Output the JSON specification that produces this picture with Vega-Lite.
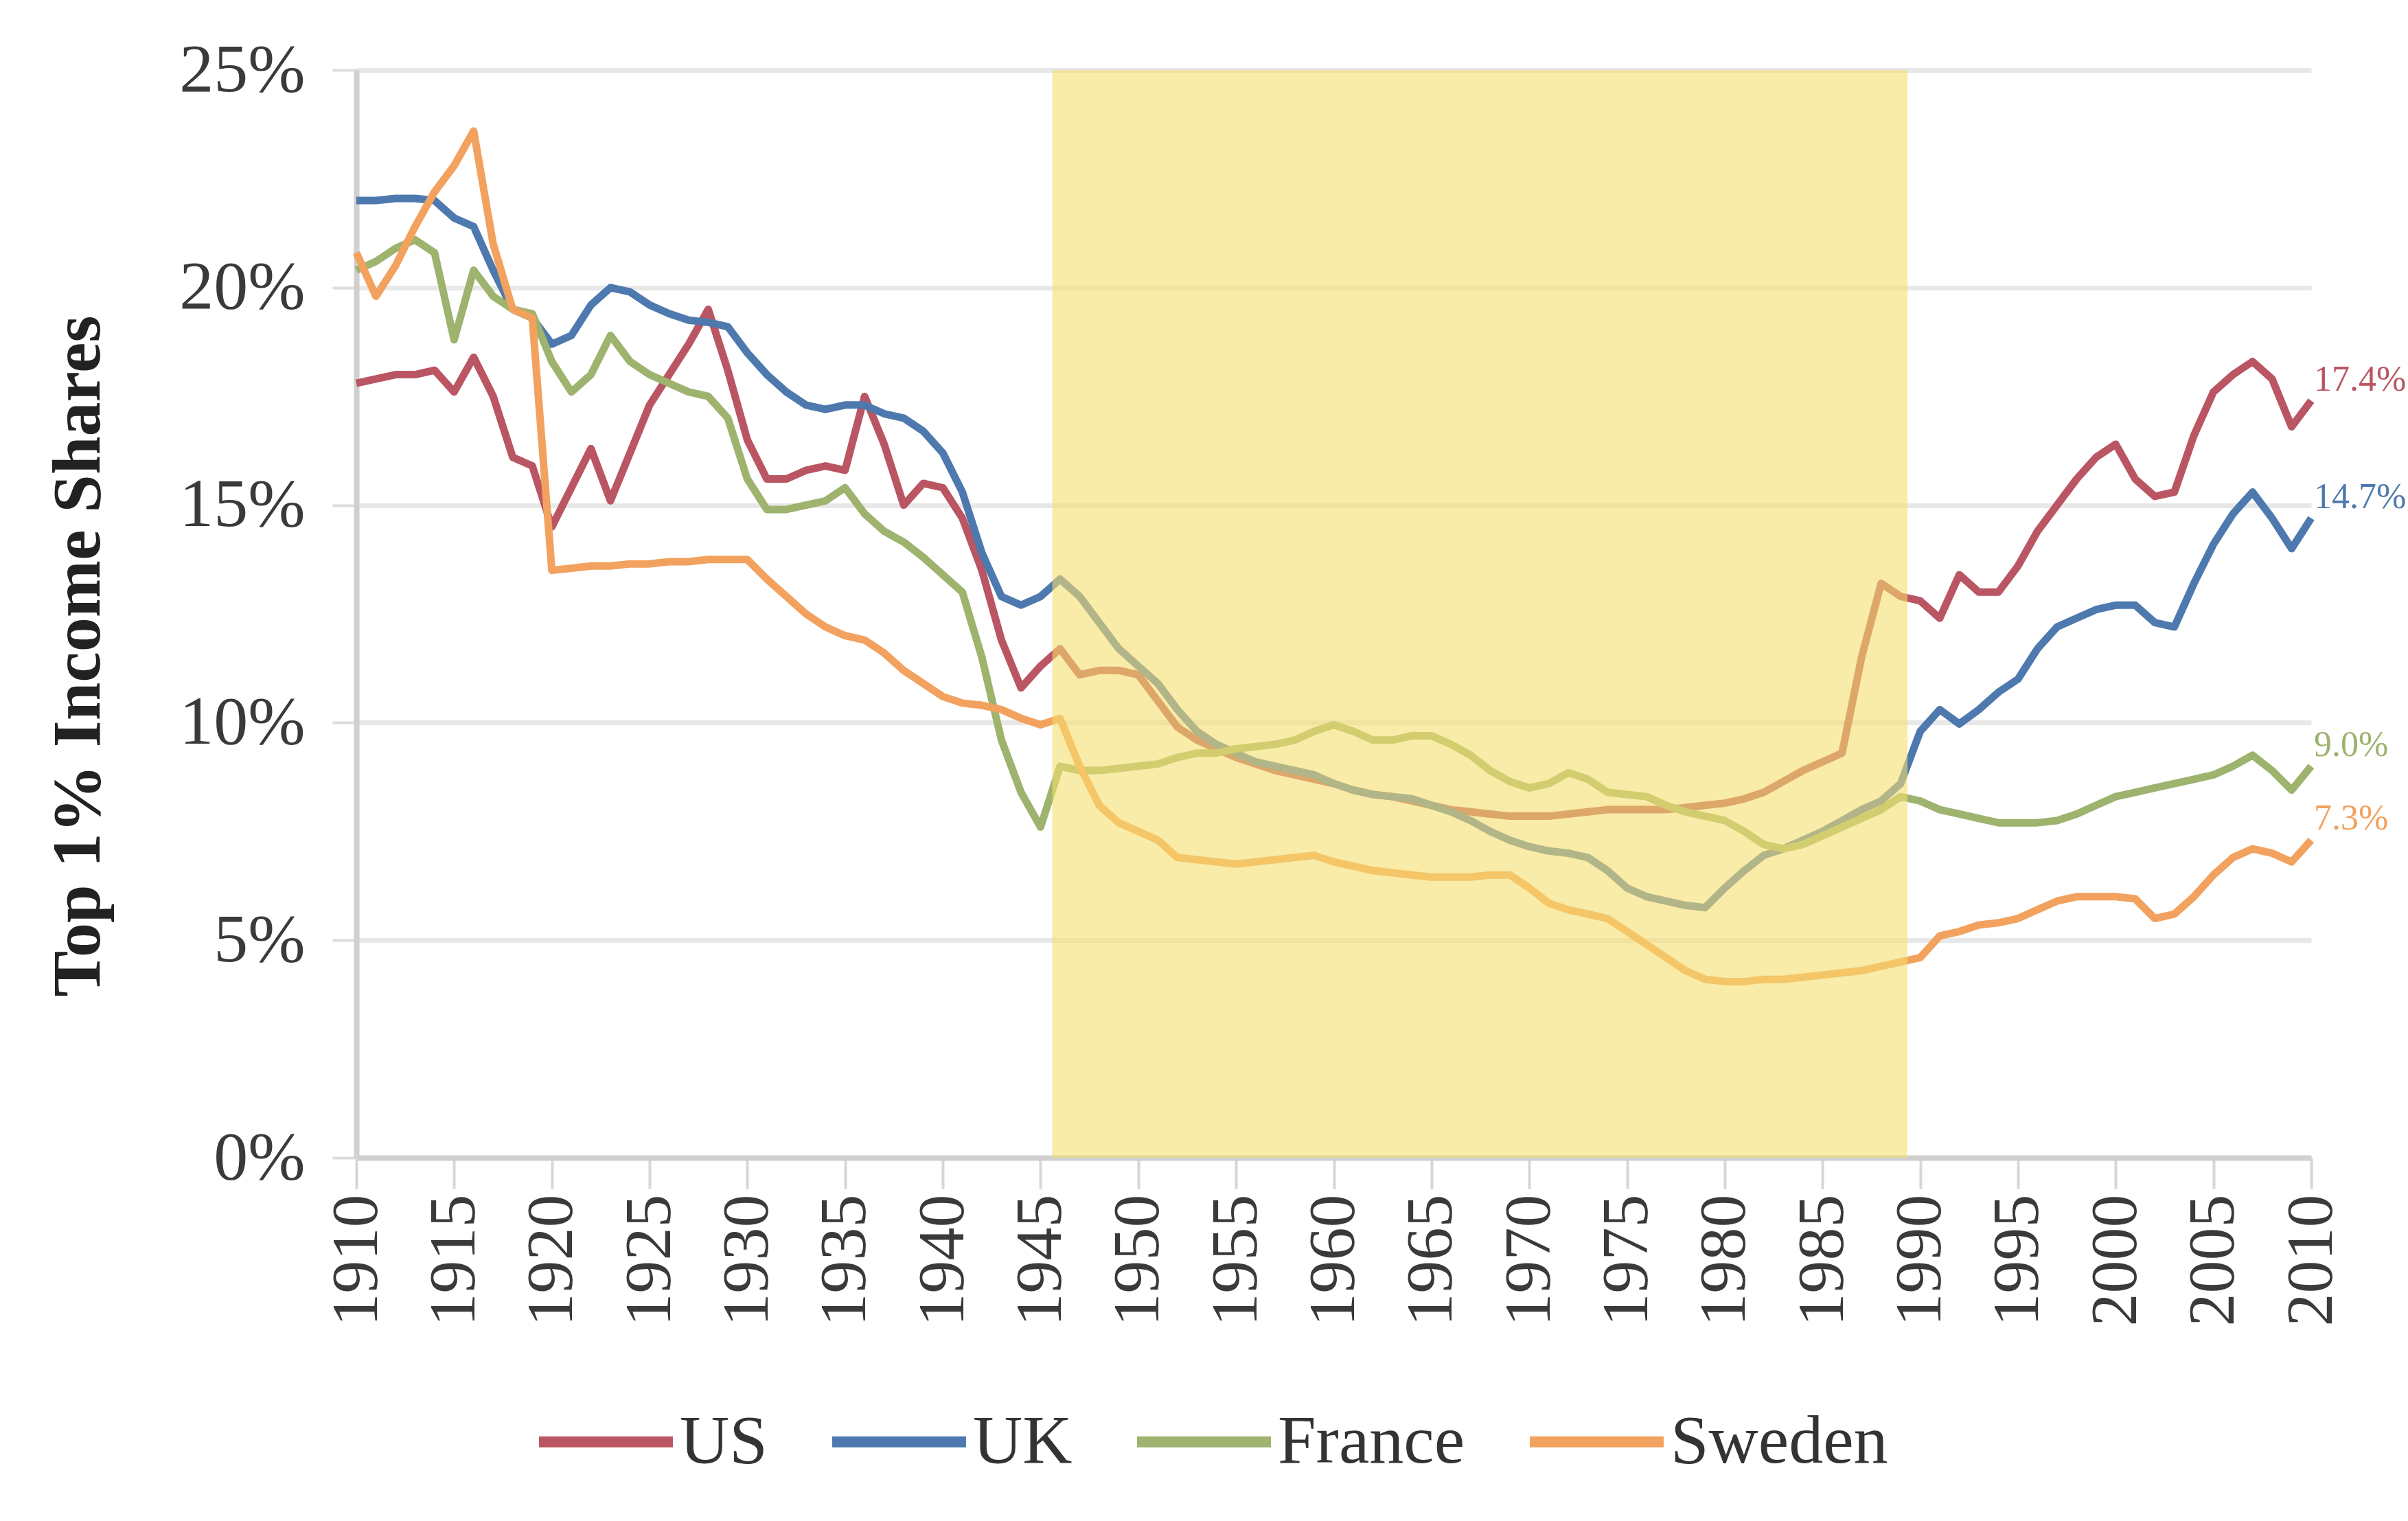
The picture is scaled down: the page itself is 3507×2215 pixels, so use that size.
{
"$schema": "https://vega.github.io/schema/vega-lite/v6.json",
"width": 2847, "height": 1584,
"autosize": {"type": "none"},
"padding": {"left": 519, "top": 102, "right": 141, "bottom": 529},
"background": "white",
"config": {"font": "Liberation Serif", "view": {"stroke": null}},
"datasets": {
"shares": [
{"year":1910,"country":"US","share":17.8},{"year":1911,"country":"US","share":17.9},{"year":1912,"country":"US","share":18.0},{"year":1913,"country":"US","share":18.0},{"year":1914,"country":"US","share":18.1},{"year":1915,"country":"US","share":17.6},{"year":1916,"country":"US","share":18.4},{"year":1917,"country":"US","share":17.5},{"year":1918,"country":"US","share":16.1},{"year":1919,"country":"US","share":15.9},
{"year":1920,"country":"US","share":14.5},{"year":1921,"country":"US","share":15.4},{"year":1922,"country":"US","share":16.3},{"year":1923,"country":"US","share":15.1},{"year":1924,"country":"US","share":16.2},{"year":1925,"country":"US","share":17.3},{"year":1926,"country":"US","share":18.0},{"year":1927,"country":"US","share":18.7},{"year":1928,"country":"US","share":19.5},{"year":1929,"country":"US","share":18.1},
{"year":1930,"country":"US","share":16.5},{"year":1931,"country":"US","share":15.6},{"year":1932,"country":"US","share":15.6},{"year":1933,"country":"US","share":15.8},{"year":1934,"country":"US","share":15.9},{"year":1935,"country":"US","share":15.8},{"year":1936,"country":"US","share":17.5},{"year":1937,"country":"US","share":16.4},{"year":1938,"country":"US","share":15.0},{"year":1939,"country":"US","share":15.5},
{"year":1940,"country":"US","share":15.4},{"year":1941,"country":"US","share":14.7},{"year":1942,"country":"US","share":13.5},{"year":1943,"country":"US","share":11.9},{"year":1944,"country":"US","share":10.8},{"year":1945,"country":"US","share":11.3},{"year":1946,"country":"US","share":11.7},{"year":1947,"country":"US","share":11.1},{"year":1948,"country":"US","share":11.2},{"year":1949,"country":"US","share":11.2},
{"year":1950,"country":"US","share":11.1},{"year":1951,"country":"US","share":10.5},{"year":1952,"country":"US","share":9.9},{"year":1953,"country":"US","share":9.6},{"year":1954,"country":"US","share":9.4},{"year":1955,"country":"US","share":9.2},{"year":1956,"country":"US","share":9.05},{"year":1957,"country":"US","share":8.9},{"year":1958,"country":"US","share":8.8},{"year":1959,"country":"US","share":8.7},
{"year":1960,"country":"US","share":8.6},{"year":1961,"country":"US","share":8.45},{"year":1962,"country":"US","share":8.35},{"year":1963,"country":"US","share":8.3},{"year":1964,"country":"US","share":8.2},{"year":1965,"country":"US","share":8.1},{"year":1966,"country":"US","share":8.0},{"year":1967,"country":"US","share":7.95},{"year":1968,"country":"US","share":7.9},{"year":1969,"country":"US","share":7.85},
{"year":1970,"country":"US","share":7.85},{"year":1971,"country":"US","share":7.85},{"year":1972,"country":"US","share":7.9},{"year":1973,"country":"US","share":7.95},{"year":1974,"country":"US","share":8.0},{"year":1975,"country":"US","share":8.0},{"year":1976,"country":"US","share":8.0},{"year":1977,"country":"US","share":8.0},{"year":1978,"country":"US","share":8.05},{"year":1979,"country":"US","share":8.1},
{"year":1980,"country":"US","share":8.15},{"year":1981,"country":"US","share":8.25},{"year":1982,"country":"US","share":8.4},{"year":1983,"country":"US","share":8.65},{"year":1984,"country":"US","share":8.9},{"year":1985,"country":"US","share":9.1},{"year":1986,"country":"US","share":9.3},{"year":1987,"country":"US","share":11.5},{"year":1988,"country":"US","share":13.2},{"year":1989,"country":"US","share":12.9},
{"year":1990,"country":"US","share":12.8},{"year":1991,"country":"US","share":12.4},{"year":1992,"country":"US","share":13.4},{"year":1993,"country":"US","share":13.0},{"year":1994,"country":"US","share":13.0},{"year":1995,"country":"US","share":13.6},{"year":1996,"country":"US","share":14.4},{"year":1997,"country":"US","share":15.0},{"year":1998,"country":"US","share":15.6},{"year":1999,"country":"US","share":16.1},
{"year":2000,"country":"US","share":16.4},{"year":2001,"country":"US","share":15.6},{"year":2002,"country":"US","share":15.2},{"year":2003,"country":"US","share":15.3},{"year":2004,"country":"US","share":16.6},{"year":2005,"country":"US","share":17.6},{"year":2006,"country":"US","share":18.0},{"year":2007,"country":"US","share":18.3},{"year":2008,"country":"US","share":17.9},{"year":2009,"country":"US","share":16.8},{"year":2010,"country":"US","share":17.4},

{"year":1910,"country":"UK","share":22.0},{"year":1911,"country":"UK","share":22.0},{"year":1912,"country":"UK","share":22.05},{"year":1913,"country":"UK","share":22.05},{"year":1914,"country":"UK","share":22.0},{"year":1915,"country":"UK","share":21.6},{"year":1916,"country":"UK","share":21.4},{"year":1917,"country":"UK","share":20.4},{"year":1918,"country":"UK","share":19.5},{"year":1919,"country":"UK","share":19.3},
{"year":1920,"country":"UK","share":18.7},{"year":1921,"country":"UK","share":18.9},{"year":1922,"country":"UK","share":19.6},{"year":1923,"country":"UK","share":20.0},{"year":1924,"country":"UK","share":19.9},{"year":1925,"country":"UK","share":19.6},{"year":1926,"country":"UK","share":19.4},{"year":1927,"country":"UK","share":19.25},{"year":1928,"country":"UK","share":19.2},{"year":1929,"country":"UK","share":19.1},
{"year":1930,"country":"UK","share":18.5},{"year":1931,"country":"UK","share":18.0},{"year":1932,"country":"UK","share":17.6},{"year":1933,"country":"UK","share":17.3},{"year":1934,"country":"UK","share":17.2},{"year":1935,"country":"UK","share":17.3},{"year":1936,"country":"UK","share":17.3},{"year":1937,"country":"UK","share":17.1},{"year":1938,"country":"UK","share":17.0},{"year":1939,"country":"UK","share":16.7},
{"year":1940,"country":"UK","share":16.2},{"year":1941,"country":"UK","share":15.3},{"year":1942,"country":"UK","share":13.9},{"year":1943,"country":"UK","share":12.9},{"year":1944,"country":"UK","share":12.7},{"year":1945,"country":"UK","share":12.9},{"year":1946,"country":"UK","share":13.3},{"year":1947,"country":"UK","share":12.9},{"year":1948,"country":"UK","share":12.3},{"year":1949,"country":"UK","share":11.7},
{"year":1950,"country":"UK","share":11.3},{"year":1951,"country":"UK","share":10.9},{"year":1952,"country":"UK","share":10.3},{"year":1953,"country":"UK","share":9.8},{"year":1954,"country":"UK","share":9.5},{"year":1955,"country":"UK","share":9.3},{"year":1956,"country":"UK","share":9.1},{"year":1957,"country":"UK","share":9.0},{"year":1958,"country":"UK","share":8.9},{"year":1959,"country":"UK","share":8.8},
{"year":1960,"country":"UK","share":8.6},{"year":1961,"country":"UK","share":8.45},{"year":1962,"country":"UK","share":8.35},{"year":1963,"country":"UK","share":8.3},{"year":1964,"country":"UK","share":8.25},{"year":1965,"country":"UK","share":8.1},{"year":1966,"country":"UK","share":7.95},{"year":1967,"country":"UK","share":7.75},{"year":1968,"country":"UK","share":7.5},{"year":1969,"country":"UK","share":7.3},
{"year":1970,"country":"UK","share":7.15},{"year":1971,"country":"UK","share":7.05},{"year":1972,"country":"UK","share":7.0},{"year":1973,"country":"UK","share":6.9},{"year":1974,"country":"UK","share":6.6},{"year":1975,"country":"UK","share":6.2},{"year":1976,"country":"UK","share":6.0},{"year":1977,"country":"UK","share":5.9},{"year":1978,"country":"UK","share":5.8},{"year":1979,"country":"UK","share":5.75},
{"year":1980,"country":"UK","share":6.2},{"year":1981,"country":"UK","share":6.6},{"year":1982,"country":"UK","share":6.95},{"year":1983,"country":"UK","share":7.1},{"year":1984,"country":"UK","share":7.3},{"year":1985,"country":"UK","share":7.5},{"year":1986,"country":"UK","share":7.75},{"year":1987,"country":"UK","share":8.0},{"year":1988,"country":"UK","share":8.2},{"year":1989,"country":"UK","share":8.6},
{"year":1990,"country":"UK","share":9.8},{"year":1991,"country":"UK","share":10.3},{"year":1992,"country":"UK","share":9.97},{"year":1993,"country":"UK","share":10.3},{"year":1994,"country":"UK","share":10.7},{"year":1995,"country":"UK","share":11.0},{"year":1996,"country":"UK","share":11.7},{"year":1997,"country":"UK","share":12.2},{"year":1998,"country":"UK","share":12.4},{"year":1999,"country":"UK","share":12.6},
{"year":2000,"country":"UK","share":12.7},{"year":2001,"country":"UK","share":12.7},{"year":2002,"country":"UK","share":12.3},{"year":2003,"country":"UK","share":12.2},{"year":2004,"country":"UK","share":13.2},{"year":2005,"country":"UK","share":14.1},{"year":2006,"country":"UK","share":14.8},{"year":2007,"country":"UK","share":15.3},{"year":2008,"country":"UK","share":14.7},{"year":2009,"country":"UK","share":14.0},{"year":2010,"country":"UK","share":14.7},

{"year":1910,"country":"France","share":20.4},{"year":1911,"country":"France","share":20.6},{"year":1912,"country":"France","share":20.9},{"year":1913,"country":"France","share":21.1},{"year":1914,"country":"France","share":20.8},{"year":1915,"country":"France","share":18.8},{"year":1916,"country":"France","share":20.4},{"year":1917,"country":"France","share":19.8},{"year":1918,"country":"France","share":19.5},{"year":1919,"country":"France","share":19.4},
{"year":1920,"country":"France","share":18.3},{"year":1921,"country":"France","share":17.6},{"year":1922,"country":"France","share":18.0},{"year":1923,"country":"France","share":18.9},{"year":1924,"country":"France","share":18.3},{"year":1925,"country":"France","share":18.0},{"year":1926,"country":"France","share":17.8},{"year":1927,"country":"France","share":17.6},{"year":1928,"country":"France","share":17.5},{"year":1929,"country":"France","share":17.0},
{"year":1930,"country":"France","share":15.6},{"year":1931,"country":"France","share":14.9},{"year":1932,"country":"France","share":14.9},{"year":1933,"country":"France","share":15.0},{"year":1934,"country":"France","share":15.1},{"year":1935,"country":"France","share":15.4},{"year":1936,"country":"France","share":14.8},{"year":1937,"country":"France","share":14.4},{"year":1938,"country":"France","share":14.15},{"year":1939,"country":"France","share":13.8},
{"year":1940,"country":"France","share":13.4},{"year":1941,"country":"France","share":13.0},{"year":1942,"country":"France","share":11.5},{"year":1943,"country":"France","share":9.6},{"year":1944,"country":"France","share":8.4},{"year":1945,"country":"France","share":7.6},{"year":1946,"country":"France","share":9.0},{"year":1947,"country":"France","share":8.9},{"year":1948,"country":"France","share":8.9},{"year":1949,"country":"France","share":8.95},
{"year":1950,"country":"France","share":9.0},{"year":1951,"country":"France","share":9.05},{"year":1952,"country":"France","share":9.2},{"year":1953,"country":"France","share":9.3},{"year":1954,"country":"France","share":9.3},{"year":1955,"country":"France","share":9.4},{"year":1956,"country":"France","share":9.45},{"year":1957,"country":"France","share":9.5},{"year":1958,"country":"France","share":9.6},{"year":1959,"country":"France","share":9.8},
{"year":1960,"country":"France","share":9.95},{"year":1961,"country":"France","share":9.8},{"year":1962,"country":"France","share":9.6},{"year":1963,"country":"France","share":9.6},{"year":1964,"country":"France","share":9.7},{"year":1965,"country":"France","share":9.7},{"year":1966,"country":"France","share":9.5},{"year":1967,"country":"France","share":9.25},{"year":1968,"country":"France","share":8.9},{"year":1969,"country":"France","share":8.65},
{"year":1970,"country":"France","share":8.5},{"year":1971,"country":"France","share":8.6},{"year":1972,"country":"France","share":8.85},{"year":1973,"country":"France","share":8.7},{"year":1974,"country":"France","share":8.4},{"year":1975,"country":"France","share":8.35},{"year":1976,"country":"France","share":8.3},{"year":1977,"country":"France","share":8.1},{"year":1978,"country":"France","share":7.95},{"year":1979,"country":"France","share":7.85},
{"year":1980,"country":"France","share":7.75},{"year":1981,"country":"France","share":7.5},{"year":1982,"country":"France","share":7.2},{"year":1983,"country":"France","share":7.1},{"year":1984,"country":"France","share":7.2},{"year":1985,"country":"France","share":7.4},{"year":1986,"country":"France","share":7.6},{"year":1987,"country":"France","share":7.8},{"year":1988,"country":"France","share":8.0},{"year":1989,"country":"France","share":8.3},
{"year":1990,"country":"France","share":8.2},{"year":1991,"country":"France","share":8.0},{"year":1992,"country":"France","share":7.9},{"year":1993,"country":"France","share":7.8},{"year":1994,"country":"France","share":7.7},{"year":1995,"country":"France","share":7.7},{"year":1996,"country":"France","share":7.7},{"year":1997,"country":"France","share":7.75},{"year":1998,"country":"France","share":7.9},{"year":1999,"country":"France","share":8.1},
{"year":2000,"country":"France","share":8.3},{"year":2001,"country":"France","share":8.4},{"year":2002,"country":"France","share":8.5},{"year":2003,"country":"France","share":8.6},{"year":2004,"country":"France","share":8.7},{"year":2005,"country":"France","share":8.8},{"year":2006,"country":"France","share":9.0},{"year":2007,"country":"France","share":9.25},{"year":2008,"country":"France","share":8.9},{"year":2009,"country":"France","share":8.45},{"year":2010,"country":"France","share":9.0},

{"year":1910,"country":"Sweden","share":20.8},{"year":1911,"country":"Sweden","share":19.8},{"year":1912,"country":"Sweden","share":20.5},{"year":1913,"country":"Sweden","share":21.4},{"year":1914,"country":"Sweden","share":22.2},{"year":1915,"country":"Sweden","share":22.8},{"year":1916,"country":"Sweden","share":23.6},{"year":1917,"country":"Sweden","share":21.0},{"year":1918,"country":"Sweden","share":19.5},{"year":1919,"country":"Sweden","share":19.3},
{"year":1920,"country":"Sweden","share":13.5},{"year":1921,"country":"Sweden","share":13.55},{"year":1922,"country":"Sweden","share":13.6},{"year":1923,"country":"Sweden","share":13.6},{"year":1924,"country":"Sweden","share":13.65},{"year":1925,"country":"Sweden","share":13.65},{"year":1926,"country":"Sweden","share":13.7},{"year":1927,"country":"Sweden","share":13.7},{"year":1928,"country":"Sweden","share":13.75},{"year":1929,"country":"Sweden","share":13.75},
{"year":1930,"country":"Sweden","share":13.75},{"year":1931,"country":"Sweden","share":13.3},{"year":1932,"country":"Sweden","share":12.9},{"year":1933,"country":"Sweden","share":12.5},{"year":1934,"country":"Sweden","share":12.2},{"year":1935,"country":"Sweden","share":12.0},{"year":1936,"country":"Sweden","share":11.9},{"year":1937,"country":"Sweden","share":11.6},{"year":1938,"country":"Sweden","share":11.2},{"year":1939,"country":"Sweden","share":10.9},
{"year":1940,"country":"Sweden","share":10.6},{"year":1941,"country":"Sweden","share":10.45},{"year":1942,"country":"Sweden","share":10.4},{"year":1943,"country":"Sweden","share":10.3},{"year":1944,"country":"Sweden","share":10.1},{"year":1945,"country":"Sweden","share":9.95},{"year":1946,"country":"Sweden","share":10.1},{"year":1947,"country":"Sweden","share":9.0},{"year":1948,"country":"Sweden","share":8.1},{"year":1949,"country":"Sweden","share":7.7},
{"year":1950,"country":"Sweden","share":7.5},{"year":1951,"country":"Sweden","share":7.3},{"year":1952,"country":"Sweden","share":6.9},{"year":1953,"country":"Sweden","share":6.85},{"year":1954,"country":"Sweden","share":6.8},{"year":1955,"country":"Sweden","share":6.75},{"year":1956,"country":"Sweden","share":6.8},{"year":1957,"country":"Sweden","share":6.85},{"year":1958,"country":"Sweden","share":6.9},{"year":1959,"country":"Sweden","share":6.95},
{"year":1960,"country":"Sweden","share":6.8},{"year":1961,"country":"Sweden","share":6.7},{"year":1962,"country":"Sweden","share":6.6},{"year":1963,"country":"Sweden","share":6.55},{"year":1964,"country":"Sweden","share":6.5},{"year":1965,"country":"Sweden","share":6.45},{"year":1966,"country":"Sweden","share":6.45},{"year":1967,"country":"Sweden","share":6.45},{"year":1968,"country":"Sweden","share":6.5},{"year":1969,"country":"Sweden","share":6.5},
{"year":1970,"country":"Sweden","share":6.2},{"year":1971,"country":"Sweden","share":5.85},{"year":1972,"country":"Sweden","share":5.7},{"year":1973,"country":"Sweden","share":5.6},{"year":1974,"country":"Sweden","share":5.5},{"year":1975,"country":"Sweden","share":5.2},{"year":1976,"country":"Sweden","share":4.9},{"year":1977,"country":"Sweden","share":4.6},{"year":1978,"country":"Sweden","share":4.3},{"year":1979,"country":"Sweden","share":4.1},
{"year":1980,"country":"Sweden","share":4.05},{"year":1981,"country":"Sweden","share":4.05},{"year":1982,"country":"Sweden","share":4.1},{"year":1983,"country":"Sweden","share":4.1},{"year":1984,"country":"Sweden","share":4.15},{"year":1985,"country":"Sweden","share":4.2},{"year":1986,"country":"Sweden","share":4.25},{"year":1987,"country":"Sweden","share":4.3},{"year":1988,"country":"Sweden","share":4.4},{"year":1989,"country":"Sweden","share":4.5},
{"year":1990,"country":"Sweden","share":4.6},{"year":1991,"country":"Sweden","share":5.1},{"year":1992,"country":"Sweden","share":5.2},{"year":1993,"country":"Sweden","share":5.35},{"year":1994,"country":"Sweden","share":5.4},{"year":1995,"country":"Sweden","share":5.5},{"year":1996,"country":"Sweden","share":5.7},{"year":1997,"country":"Sweden","share":5.9},{"year":1998,"country":"Sweden","share":6.0},{"year":1999,"country":"Sweden","share":6.0},
{"year":2000,"country":"Sweden","share":6.0},{"year":2001,"country":"Sweden","share":5.95},{"year":2002,"country":"Sweden","share":5.5},{"year":2003,"country":"Sweden","share":5.6},{"year":2004,"country":"Sweden","share":6.0},{"year":2005,"country":"Sweden","share":6.5},{"year":2006,"country":"Sweden","share":6.9},{"year":2007,"country":"Sweden","share":7.1},{"year":2008,"country":"Sweden","share":7.0},{"year":2009,"country":"Sweden","share":6.8},{"year":2010,"country":"Sweden","share":7.3}
],
"labels": [
{"year":2010,"country":"US","share":17.4,"label":"17.4%"},
{"year":2010,"country":"UK","share":14.7,"label":"14.7%"},
{"year":2010,"country":"France","share":9.0,"label":"9.0%"},
{"year":2010,"country":"Sweden","share":7.3,"label":"7.3%"}
],
"band": [{"start":1945.6,"end":1989.35,"low":0,"high":25}]
},
"encoding": {
"x": {"field":"year","type":"quantitative","scale":{"domain":[1910,2010],"nice":false,"zero":false},
 "axis":{"title":null,"values":[1910,1915,1920,1925,1930,1935,1940,1945,1950,1955,1960,1965,1970,1975,1980,1985,1990,1995,2000,2005,2010],
  "format":"d","labelAngle":270,"labelFontSize":96,"labelColor":"#3a3a3a","labelPadding":8,"labelLimit":0,"tickSize":45,"tickWidth":4,"tickColor":"#D6D6D6","domainColor":"#D0D0D0","domainWidth":8,"grid":false,"labelOverlap":false,"labelFlush":false}},
"y": {"field":"share","type":"quantitative","scale":{"domain":[0,25],"nice":false},
 "axis":{"title":"Top 1% Income Shares","values":[0,5,10,15,20,25],"labelExpr":"datum.value + '%'","labelFontSize":100,"labelColor":"#3a3a3a","labelPadding":40,"labelLimit":0,
  "tickSize":35,"tickWidth":4,"tickColor":"#DDDDDD","domainColor":"#D0D0D0","domainWidth":8,"grid":true,"gridColor":"#E8E8E8","gridWidth":7,
  "titleFontSize":100,"titleFontWeight":"bold","titleColor":"#222222","titleX":-375,"titleY":853,"titleAngle":270,"titleBaseline":"alphabetic","titleAlign":"center","titleLimit":0}}
},
"layer": [
{"data":{"name":"shares"},
 "mark":{"type":"line","strokeWidth":11,"strokeJoin":"round"},
 "encoding":{"color":{"field":"country","type":"nominal","scale":{"domain":["US","UK","France","Sweden"],"range":["#BA5563","#4E79AE","#9DB36E","#F2A25E"]},
  "legend":{"title":null,"orient":"none","legendX":258,"legendY":1892,"direction":"horizontal","symbolType":"stroke","symbolSize":38000,"symbolStrokeWidth":16,
   "labelFontSize":100,"labelColor":"#333333","labelOffset":2,"labelLimit":0,"columnPadding":62,"padding":0}}}},
{"data":{"name":"band"},
 "mark":{"type":"rect","color":"#F5DE6E","opacity":0.6},
 "encoding":{"x":{"field":"start","type":"quantitative"},"x2":{"field":"end"},"y":{"field":"low","type":"quantitative"},"y2":{"field":"high"}}},
{"data":{"name":"labels"},
 "mark":{"type":"text","align":"left","baseline":"bottom","dx":4,"dy":-4,"fontSize":52,"limit":0},
 "encoding":{"text":{"field":"label"},"color":{"field":"country","type":"nominal","legend":null}}}
]
}
